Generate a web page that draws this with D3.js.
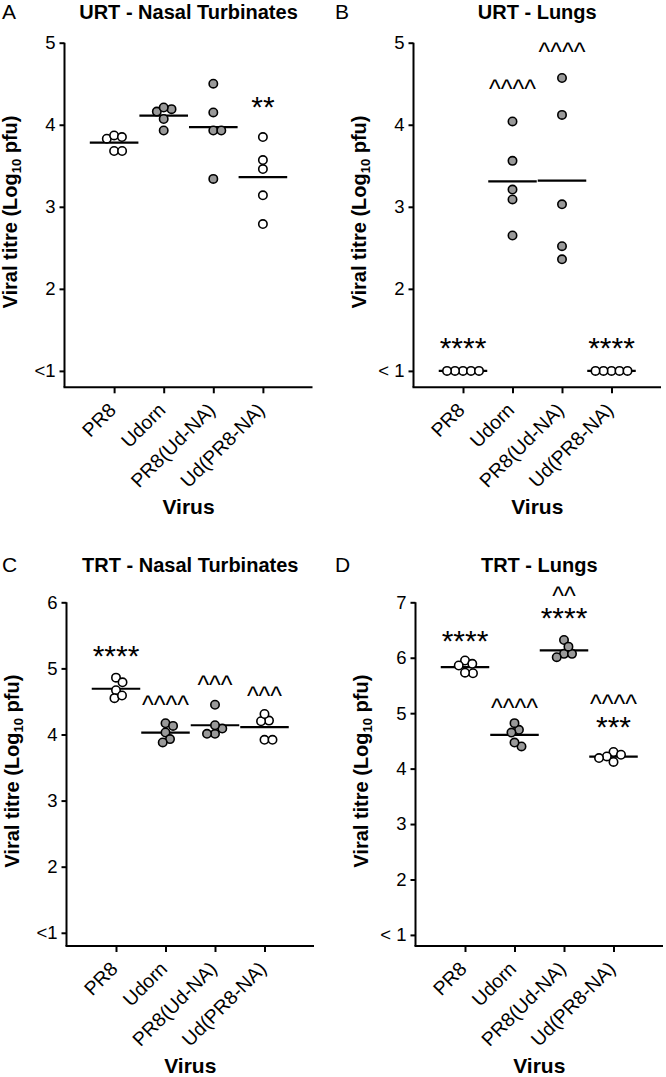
<!DOCTYPE html>
<html lang="en">
<head>
<meta charset="utf-8">
<title>Viral titres</title>
<script src="https://cdn.jsdelivr.net/npm/d3@7"></script>
<style>
  body { margin: 0; background: #fff; }
  svg { display: block; font-family: "Liberation Sans", Arial, sans-serif; }
</style>
</head>
<body>
<svg id="chart" width="666" height="1077"></svg>
<script>
// viruses, and where each one's NA comes from (open = PR8 NA, grey = Udorn NA)
const categories = ["PR8", "Udorn", "PR8(Ud-NA)", "Ud(PR8-NA)"];
const naSource = ["PR8", "Ud", "Ud", "PR8"];

// log10 pfu per mouse, one list per virus
const urtNasal = [[3.83, 3.87, 3.85, 3.68, 3.68], [4.19, 4.16, 4.21, 4.07, 3.93], [4.50, 4.15, 3.93, 3.93, 3.34], [3.85, 3.57, 3.46, 3.14, 2.79]];
const urtLungs = [[1, 1, 1, 1, 1], [4.04, 3.56, 3.21, 3.09, 2.65], [4.57, 4.12, 3.03, 2.52, 2.36], [1, 1, 1, 1, 1]];
const trtNasal = [[4.67, 4.86, 4.79, 4.55, 4.59], [4.03, 4.17, 4.13, 3.93, 3.88], [4.09, 4.45, 4.01, 4.01, 4.14], [4.21, 4.20, 4.31, 3.92, 3.92]];
const trtLungs = [[5.95, 5.86, 5.72, 5.73, 5.89], [4.70, 4.65, 4.82, 4.40, 4.47], [6.07, 6.32, 6.01, 6.07, 6.20], [4.30, 4.22, 4.12, 4.19, 4.25]];

// y tick labels (ticks at 1, 2, 3 ...)
const ticksUrtNasal = ["<1", "2", "3", "4", "5"];
const ticksUrtLungs = ["< 1", "2", "3", "4", "5"];
const ticksTrtNasal = ["<1", "2", "3", "4", "5", "6"];
const ticksTrtLungs = ["< 1", "2", "3", "4", "5", "6", "7"];

// significance marks: virus, text, height (log10 pfu)
const starsUrtNasal = [["Ud(PR8-NA)", "**", 4.30]];
const starsUrtLungs = [["PR8", "****", 1.36], ["Udorn", "^^^^", 4.49], ["PR8(Ud-NA)", "^^^^", 4.94], ["Ud(PR8-NA)", "****", 1.36]];
const starsTrtNasal = [["PR8", "****", 5.29], ["Udorn", "^^^^", 4.50], ["PR8(Ud-NA)", "^^^", 4.81], ["Ud(PR8-NA)", "^^^", 4.65]];
const starsTrtLungs = [["PR8", "****", 6.42], ["Udorn", "^^^^", 5.16], ["PR8(Ud-NA)", "^^", 7.19], ["PR8(Ud-NA)", "****", 6.84],
                       ["Ud(PR8-NA)", "^^^^", 5.23], ["Ud(PR8-NA)", "***", 4.88]];

const panels = [
  { letter: "A", title: "URT - Nasal Turbinates", values: urtNasal, ticks: ticksUrtNasal, stars: starsUrtNasal,
    left: 64.5, right: 312.5, top: 42.7, bottom: 387.3, ox: 0, titleY: 19 },
  { letter: "B", title: "URT - Lungs", values: urtLungs, ticks: ticksUrtLungs, stars: starsUrtLungs,
    left: 413.5, right: 661, top: 42.7, bottom: 387.3, ox: 333, titleY: 19 },
  { letter: "C", title: "TRT - Nasal Turbinates", values: trtNasal, ticks: ticksTrtNasal, stars: starsTrtNasal,
    left: 66.5, right: 314, top: 602.3, bottom: 946, ox: 0, titleY: 572 },
  { letter: "D", title: "TRT - Lungs", values: trtLungs, ticks: ticksTrtLungs, stars: starsTrtLungs,
    left: 415.5, right: 663, top: 602.3, bottom: 946, ox: 333, titleY: 572 }
];

const fill = d3.scaleOrdinal().domain(["PR8", "Ud"]).range(["#ffffff", "#999999"]);
const dotR = 4.2;

// simple beeswarm: spread points sideways so they don't pile up
function swarm(ys, d) {
  const order = d3.range(ys.length).sort((a, b) => ys[a] - ys[b]);
  const placed = [];
  const xs = [];
  order.forEach(i => {
    const y = ys[i];
    const cands = [0];
    placed.forEach(p => {
      const dy = Math.abs(p.y - y);
      if (dy < d) {
        const dx = Math.sqrt(d * d - dy * dy);
        cands.push(p.x + dx, p.x - dx);
      }
    });
    cands.sort((a, b) => Math.abs(a) - Math.abs(b));
    const x = cands.find(c => placed.every(p => (p.x - c) ** 2 + (p.y - y) ** 2 >= d * d - 0.01));
    xs[i] = x;
    placed.push({ x, y });
  });
  return xs;
}

const svg = d3.select("#chart");

panels.forEach(p => {
  const yMax = p.ticks.length;
  const x = d3.scalePoint().domain(categories).range([p.left, p.right]).padding(1);
  const y = d3.scaleLinear().domain([0.8, yMax]).range([p.bottom, p.top]);
  const g = svg.append("g");

  // panel letter + title
  g.append("text").attr("x", p.ox + 2).attr("y", p.titleY)
    .attr("font-size", 21).text(p.letter);
  g.append("text").attr("x", (p.left + p.right) / 2).attr("y", p.titleY)
    .attr("text-anchor", "middle").attr("font-size", 20).attr("font-weight", "bold").text(p.title);

  // y axis
  const ya = g.append("g").attr("transform", `translate(${p.left},0)`)
    .call(d3.axisLeft(y).tickValues(d3.range(1, yMax + 1)).tickFormat((d, i) => p.ticks[i])
      .tickSize(5).tickSizeOuter(0).tickPadding(4));
  ya.selectAll("text").attr("font-size", 18.5).attr("fill", "#000");

  // x axis
  const xa = g.append("g").attr("transform", `translate(0,${p.bottom})`)
    .call(d3.axisBottom(x).tickSize(6).tickSizeOuter(0).tickFormat(""));
  [ya, xa].forEach(a => {
    a.selectAll("path, line").attr("stroke", "#000").attr("stroke-width", 2);
    a.attr("font-family", null);
  });
  xa.select(".domain").attr("d", `M${p.left - 1},0H${p.right}`);
  ya.select(".domain").attr("d", `M0,${p.bottom}V${p.top}`);

  g.selectAll("text.cat").data(categories).join("text").attr("class", "cat")
    .attr("transform", d => `translate(${x(d) + 3},${p.bottom + 24}) rotate(-45)`)
    .attr("text-anchor", "end").attr("font-size", 19.5).text(d => d);

  // axis titles
  g.append("text").attr("x", (p.left + p.right) / 2).attr("y", p.bottom + 127)
    .attr("text-anchor", "middle").attr("font-size", 21).attr("font-weight", "bold").text("Virus");
  const yl = g.append("text")
    .attr("transform", `translate(${p.left - 47.5},${(p.top + p.bottom) / 2 - 3}) rotate(-90)`)
    .attr("text-anchor", "middle").attr("font-size", 20).attr("font-weight", "bold");
  yl.append("tspan").text("Viral titre (Log");
  yl.append("tspan").attr("font-size", 13).attr("dy", 4).text("10");
  yl.append("tspan").attr("dy", -4).text(" pfu)");

  // points + mean line for every virus
  categories.forEach((c, i) => {
    const vals = p.values[i];
    const ys = vals.map(v => y(v));
    const xs = swarm(ys, 8);
    const m = d3.mean(vals);
    const hw = x.step() * 0.49;
    g.append("line").attr("x1", x(c) - hw).attr("x2", x(c) + hw)
      .attr("y1", y(m)).attr("y2", y(m)).attr("stroke", "#000").attr("stroke-width", 2.2);
    g.selectAll(null).data(vals).join("circle")
      .attr("cx", (d, j) => x(c) + xs[j]).attr("cy", (d, j) => ys[j]).attr("r", dotR)
      .attr("fill", fill(naSource[i])).attr("stroke", "#000").attr("stroke-width", 1.6);
  });

  // significance marks, one text per virus (stacked marks become tspans)
  const byCat = d3.groups(p.stars, d => d[0]);
  byCat.forEach(([c, marks]) => {
    const t = g.append("text").attr("class", "star").attr("text-anchor", "middle");
    marks.forEach(d => {
      const star = d[1][0] === "*";
      t.append("tspan").attr("x", x(c))
        .attr("y", y(d[2]) + (star ? 17 : 13))
        .attr("font-size", star ? 30 : 25)
        .text(d[1]);
    });
  });
});
</script>
</body>
</html>
